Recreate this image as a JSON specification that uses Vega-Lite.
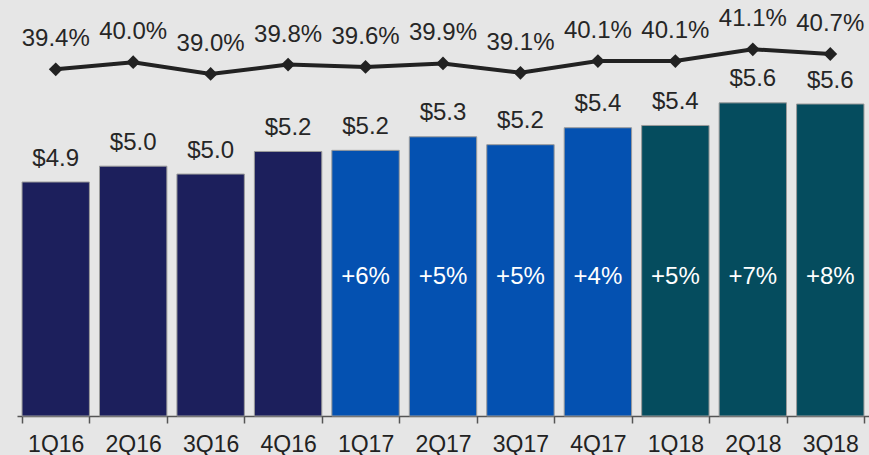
{
  "$schema": "https://vega.github.io/schema/vega-lite/v6.json",
  "width": 852,
  "height": 416,
  "autosize": {"type": "none"},
  "padding": {"left": 17, "top": 0, "right": 0, "bottom": 39},
  "background": "#e6e6e6",
  "config": {
    "view": {"stroke": null},
    "text": {"font": "Liberation Sans", "fontSize": 24}
  },
  "data": {
    "values": [
      {"q": "1Q16", "year": "2016", "rev": 4.90, "margin": 0.394, "growth": null},
      {"q": "2Q16", "year": "2016", "rev": 5.04, "margin": 0.400, "growth": null},
      {"q": "3Q16", "year": "2016", "rev": 4.97, "margin": 0.390, "growth": null},
      {"q": "4Q16", "year": "2016", "rev": 5.17, "margin": 0.398, "growth": null},
      {"q": "1Q17", "year": "2017", "rev": 5.18, "margin": 0.396, "growth": 0.06},
      {"q": "2Q17", "year": "2017", "rev": 5.30, "margin": 0.399, "growth": 0.05},
      {"q": "3Q17", "year": "2017", "rev": 5.23, "margin": 0.391, "growth": 0.05},
      {"q": "4Q17", "year": "2017", "rev": 5.38, "margin": 0.401, "growth": 0.04},
      {"q": "1Q18", "year": "2018", "rev": 5.40, "margin": 0.401, "growth": 0.05},
      {"q": "2Q18", "year": "2018", "rev": 5.60, "margin": 0.411, "growth": 0.07},
      {"q": "3Q18", "year": "2018", "rev": 5.59, "margin": 0.407, "growth": 0.08}
    ]
  },
  "encoding": {
    "x": {
      "field": "q",
      "type": "nominal",
      "sort": null,
      "scale": {"paddingInner": 0.13, "paddingOuter": 0.065},
      "axis": {
        "title": null,
        "labelAngle": 0,
        "tickBand": "extent",
        "domainColor": "#555555",
        "domainWidth": 1.5,
        "tickColor": "#555555",
        "tickWidth": 1.5,
        "tickSize": 7,
        "labelFont": "Liberation Sans",
        "labelFontSize": 23,
        "labelColor": "#222222",
        "labelPadding": 10,
        "grid": false
      }
    }
  },
  "layer": [
    {
      "layer": [
        {
          "mark": {"type": "bar", "stroke": "#9a9a9a", "strokeWidth": 1},
          "encoding": {
            "y": {"field": "rev", "type": "quantitative", "scale": {"domain": [2.83, 6.51], "zero": false, "nice": false}, "axis": null},
            "y2": {"datum": 2.83},
            "color": {"field": "year", "type": "nominal", "scale": {"domain": ["2016", "2017", "2018"], "range": ["#1c1f5c", "#0451b1", "#054c5e"]}, "legend": null}
          }
        },
        {
          "mark": {"type": "text", "baseline": "alphabetic", "dy": -16.5, "color": "#262626"},
          "encoding": {
            "y": {"field": "rev", "type": "quantitative"},
            "text": {"field": "rev", "type": "quantitative", "format": "$.1f"}
          }
        },
        {
          "transform": [{"filter": "datum.growth != null"}],
          "mark": {"type": "text", "baseline": "alphabetic", "color": "#ffffff"},
          "encoding": {
            "y": {"datum": 4.0, "type": "quantitative"},
            "text": {"field": "growth", "type": "quantitative", "format": "+.0%"}
          }
        }
      ]
    },
    {
      "layer": [
        {
          "mark": {"type": "line", "color": "#222222", "strokeWidth": 4},
          "encoding": {
            "y": {"field": "margin", "type": "quantitative", "scale": {"domain": [0.0992, 0.4529], "zero": false, "nice": false}, "axis": null}
          }
        },
        {
          "mark": {"type": "point", "shape": "diamond", "filled": true, "color": "#222222", "size": 190, "opacity": 1},
          "encoding": {
            "y": {"field": "margin", "type": "quantitative"}
          }
        },
        {
          "mark": {"type": "text", "baseline": "alphabetic", "dy": -23, "color": "#262626"},
          "encoding": {
            "y": {"field": "margin", "type": "quantitative"},
            "text": {"field": "margin", "type": "quantitative", "format": ".1%"}
          }
        }
      ]
    }
  ],
  "resolve": {"scale": {"y": "independent"}}
}
